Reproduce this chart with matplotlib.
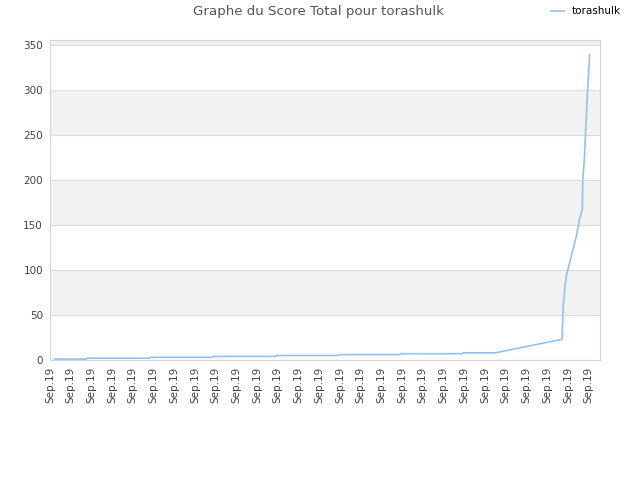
import matplotlib
matplotlib.use("Agg")
import matplotlib.pyplot as plt

# =============================================
# DONNÉES
# =============================================
joueur = "torashulk"
etiquettes_x = ["Sep.19"] * 27

# position sur l'axe (en graduations) et score total
positions = [0.22, 1.76, 1.80, 4.80, 4.84, 7.84, 7.88, 10.88, 10.92, 13.92,
             13.96, 16.90, 16.94, 19.90, 19.94, 21.50, 24.72, 24.76, 24.84,
             24.92, 25.08, 25.24, 25.40, 25.56, 25.69, 25.72, 25.80, 25.88,
             25.96, 26.05]
scores = [1, 1, 2, 2, 3, 3, 4, 4, 5, 5,
          6, 6, 7, 7, 8, 8, 23, 56, 78,
          93, 108, 122, 137, 156, 167, 200, 226, 267,
          304, 339]

graduations_y = [0, 50, 100, 150, 200, 250, 300, 350]

# =============================================
# GRAPHIQUE
# =============================================
fig = plt.figure(figsize=(6.4, 4.8), dpi=100)
ax = fig.add_axes([0.078, 0.25, 0.8595, 0.6667])

# bandes alternées
for i, y0 in enumerate(graduations_y):
    if i % 2 == 1:
        ax.axhspan(y0, y0 + 50, color="#F2F2F2", zorder=0, lw=0)
    ax.axhline(y0, color="#DDDDDD", lw=0.8, zorder=1)

ax.plot(positions, scores, color="#90C3F5", lw=1.2, label=joueur, zorder=3)

ax.set_xlim(0, 26.55)
ax.set_ylim(0, 355.5)
ax.set_xticks(range(len(etiquettes_x)))
ax.set_xticklabels(etiquettes_x, rotation=90, fontsize=7.5, color="#444444")
ax.set_yticks(graduations_y)
ax.set_yticklabels([str(v) for v in graduations_y], fontsize=7.5, color="#444444")
ax.tick_params(length=0, pad=5)

for s in ax.spines.values():
    s.set_color("#D5D5D5")

fig.text(0.497, 0.989, "Graphe du Score Total pour " + joueur, ha="center", va="top",
         fontsize=9.6, color="#555555")
fig.legend(loc="upper right", bbox_to_anchor=(0.985, 1.006), frameon=False,
           fontsize=7.5, handlelength=1.2, handletextpad=0.8)

plt.savefig("out.png", dpi=100)
